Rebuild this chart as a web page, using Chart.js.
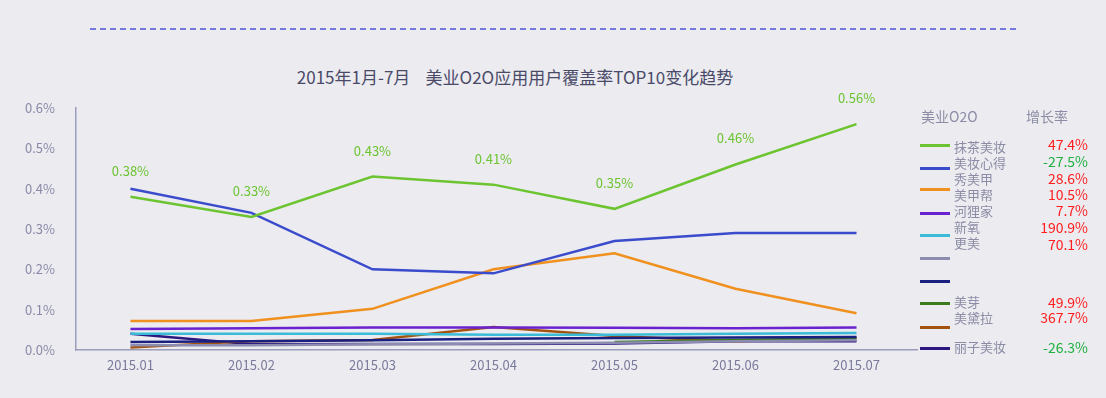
<!DOCTYPE html>
<html><head><meta charset="utf-8">
<script src="https://cdn.jsdelivr.net/npm/chart.js@4.4.1/dist/chart.umd.min.js"></script>
<style>
html,body{margin:0;padding:0;background:#ebebf0;}
#wrap{position:relative;width:1106px;height:398px;overflow:hidden;background:#ebebf0;font-family:"Noto Sans CJK SC","Noto Sans",sans-serif;}
#c{position:absolute;left:0;top:0;}
#dash{position:absolute;left:90px;top:28px;width:926px;height:0;border-top:2px dashed #7777dd;}
#title{position:absolute;left:0;width:1030px;top:64px;text-align:center;font-size:17px;color:#4a4a68;white-space:pre;}
.lg{position:absolute;font-size:13px;color:#8c8ca6;white-space:nowrap;line-height:16px;}
.pc{position:absolute;font-size:14px;white-space:nowrap;line-height:16px;text-align:right;width:80px;}
.sw{position:absolute;height:3px;width:30px;left:920px;}
</style></head>
<body><div id="wrap">
<div id="dash"></div>
<div id="title">2015年1月-7月    美业O2O应用用户覆盖率TOP10变化趋势</div>
<canvas id="c" width="1106" height="398"></canvas>
</div>
<script>
// ---- data ----
const categories = ["2015.01","2015.02","2015.03","2015.04","2015.05","2015.06","2015.07"];
const yTicks = [0, 0.1, 0.2, 0.3, 0.4, 0.5, 0.6];
const seriesNames = ["抹茶美妆","美妆心得","美甲帮","河狸家","新氧","更美","秀美甲","美芽","美黛拉","丽子美妆"];
const mochaMakeup   = [0.38, 0.33, 0.43, 0.41, 0.35, 0.46, 0.56];
const makeupNotes   = [0.40, 0.34, 0.20, 0.19, 0.27, 0.29, 0.29];
const nailHelper    = [0.072, 0.072, 0.102, 0.20, 0.24, 0.152, 0.091];
const heliJia       = [0.052, 0.054, 0.056, 0.056, 0.055, 0.054, 0.056];
const xinYang       = [0.040, 0.040, 0.040, 0.038, 0.038, 0.040, 0.042];
const gengMei       = [0.012, 0.012, 0.014, 0.016, 0.018, 0.022, 0.024];
const xiuMeiJia     = [0.020, 0.022, 0.024, 0.028, 0.030, 0.031, 0.032];
const meiYa         = [null, null, null, null, 0.020, 0.025, 0.030];
const meiDaiLa      = [0.006, 0.022, 0.025, 0.057, 0.035, 0.022, 0.030];
const liziMakeup    = [0.040, 0.014, 0.015, 0.015, 0.016, 0.022, 0.022];
const legendNames  = ["抹茶美妆","美妆心得","秀美甲","美甲帮","河狸家","新氧","更美","美芽","美黛拉","丽子美妆"];
const legendGrowth = ["47.4%","-27.5%","28.6%","10.5%","7.7%","190.9%","70.1%","49.9%","367.7%","-26.3%"];

// ---- styles ----
const colors = ["#6cc430","#3a4ccc","#f0901e","#6a22d0","#3abcd8","#8c8cb0","#1a2080","#3c7a1e","#a3530e","#2c1880"];
const seriesValues = [mochaMakeup, makeupNotes, nailHelper, heliJia, xinYang, gengMei, xiuMeiJia, meiYa, meiDaiLa, liziMakeup];

const datasets = seriesValues.map((vals, k) => ({
  label: seriesNames[k],
  data: vals.map((v, i) => ({x: i, y: v})),
  borderColor: colors[k],
  backgroundColor: colors[k],
  borderWidth: k < 2 || k === 2 ? 2.5 : 2.5,
  pointRadius: 0,
  tension: 0,
  spanGaps: false,
  order: k
})).reverse();

const labelPlugin = {
  id: 'greenLabels',
  afterDatasetsDraw(chart) {
    const ctx = chart.ctx;
    const idx = chart.data.datasets.findIndex(d => d.label === seriesNames[0]);
    const meta = chart.getDatasetMeta(idx);
    ctx.save();
    ctx.font = '13px "Noto Sans CJK SC", sans-serif';
    ctx.fillStyle = '#6cc430';
    ctx.textAlign = 'center';
    ctx.textBaseline = 'middle';
    meta.data.forEach((pt, i) => {
      ctx.fillText(mochaMakeup[i].toFixed(2) + '%', pt.x, pt.y - 26);
    });
    ctx.restore();
  }
};

new Chart(document.getElementById('c'), {
  type: 'line',
  data: { datasets },
  options: {
    responsive: false,
    animation: false,
    devicePixelRatio: 1,
    layout: { padding: { left: 0, top: 108, right: 1106 - 917, bottom: 0 } },
    plugins: { legend: { display: false }, tooltip: { enabled: false }, title: { display: false } },
    scales: {
      x: {
        type: 'linear',
        min: -0.45, max: 6.5,
        afterBuildTicks: s => { s.ticks = categories.map((c, i) => ({ value: i })); },
        afterFit: s => { s.height = 48; },
        ticks: {
          callback: v => categories[v] ?? '',
          color: '#7a7a9c',
          font: { family: '"Noto Sans CJK SC", sans-serif', size: 13 },
          padding: 7,
          maxRotation: 0, autoSkip: false
        },
        grid: { display: true, drawOnChartArea: false, drawTicks: false },
        border: { display: true, color: '#9c9cbc', width: 1.5 }
      },
      y: {
        min: 0, max: 0.6,
        afterBuildTicks: s => { s.ticks = yTicks.map(v => ({ value: v })); },
        afterFit: s => { s.width = 76; },
        ticks: {
          callback: v => v.toFixed(1) + '%',
          color: '#8a8aa8',
          font: { family: '"Noto Sans CJK SC", sans-serif', size: 13 },
          padding: 21
        },
        grid: { display: true, drawOnChartArea: false, drawTicks: false },
        border: { display: true, color: '#9c9cbc', width: 1.5 }
      }
    }
  },
  plugins: [labelPlugin]
});

// ---- legend (HTML) ----
const wrap = document.getElementById('wrap');
function addDiv(cls, text, css) {
  const d = document.createElement('div');
  d.className = cls; d.textContent = text; Object.assign(d.style, css); wrap.appendChild(d); return d;
}
addDiv('lg', '美业O2O', { left: '921px', top: '108px', fontSize: '14px' });
addDiv('lg', '增长率', { left: '1026px', top: '108px', fontSize: '14px' });
// line swatches in the reference's legend order
const swatchColors = [colors[0], colors[1], colors[2], colors[3], colors[4], colors[5], colors[6], colors[7], colors[8], colors[9]];
const swatchTop = [144, 167, 188, 212, 234, 257, 280, 302, 326, 347];
swatchColors.forEach((c, k) => addDiv('sw', '', { top: swatchTop[k] + 'px', background: c }));
const nameTop = [139, 155, 171, 187, 203, 219, 235, 294, 310, 339];
const pctTop  = [136, 153, 170, 186, 202, 219, 236, 294, 309, 339];
legendNames.forEach((n, k) => addDiv('lg', n, { left: '954px', top: nameTop[k] + 'px' }));
legendGrowth.forEach((g, k) => addDiv('pc', g, {
  left: '1008px', top: pctTop[k] + 'px',
  color: g.startsWith('-') ? '#1fb040' : '#ff1e1e'
}));
</script>
</body></html>
